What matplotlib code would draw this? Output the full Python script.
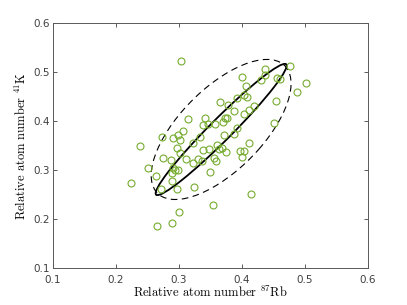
import numpy as np
import matplotlib
matplotlib.use('Agg')
import matplotlib.pyplot as plt
from matplotlib.patches import Ellipse

plt.rcParams['mathtext.fontset'] = 'cm'

# relative atom numbers
rb87 = [0.303, 0.476, 0.436, 0.437, 0.400, 0.431, 0.456, 0.460, 0.501, 0.406,
        0.488, 0.404, 0.408, 0.392, 0.454, 0.366, 0.378, 0.419, 0.411, 0.388,
        0.404, 0.342, 0.314, 0.373, 0.377, 0.370, 0.339, 0.346, 0.358, 0.451,
        0.392, 0.306, 0.273, 0.290, 0.299, 0.302, 0.322, 0.334, 0.372, 0.388,
        0.412, 0.238, 0.297, 0.339, 0.347, 0.360, 0.364, 0.369, 0.374, 0.397,
        0.403, 0.400, 0.275, 0.288, 0.302, 0.312, 0.322, 0.331, 0.337, 0.356,
        0.359, 0.251, 0.290, 0.294, 0.298, 0.289, 0.350, 0.263, 0.289, 0.224,
        0.271, 0.297, 0.324, 0.415, 0.354, 0.300, 0.289, 0.265]
k41 = [0.523, 0.513, 0.506, 0.494, 0.490, 0.485, 0.489, 0.486, 0.478, 0.471,
       0.459, 0.453, 0.450, 0.447, 0.441, 0.439, 0.432, 0.431, 0.423, 0.421,
       0.415, 0.406, 0.405, 0.406, 0.407, 0.399, 0.392, 0.395, 0.395, 0.397,
       0.385, 0.379, 0.368, 0.365, 0.371, 0.361, 0.356, 0.368, 0.371, 0.373,
       0.356, 0.350, 0.346, 0.342, 0.343, 0.351, 0.344, 0.346, 0.338, 0.339,
       0.339, 0.327, 0.324, 0.321, 0.334, 0.322, 0.314, 0.322, 0.319, 0.324,
       0.319, 0.305, 0.305, 0.300, 0.301, 0.294, 0.297, 0.287, 0.278, 0.274,
       0.261, 0.261, 0.266, 0.252, 0.229, 0.214, 0.193, 0.186]

# ellipses: centre, std devs, correlation
centre = (0.367, 0.383)
solid_sx, solid_sy, solid_rho = 0.104, 0.134, 0.972
dash_sx, dash_sy, dash_rho = 0.111, 0.143, 0.656

ticks = [0.1, 0.2, 0.3, 0.4, 0.5, 0.6]


def cov_ellipse(sx, sy, rho, **kw):
    cov = np.array([[sx * sx, rho * sx * sy], [rho * sx * sy, sy * sy]])
    vals, vecs = np.linalg.eigh(cov)
    ang = np.degrees(np.arctan2(vecs[1, 1], vecs[0, 1]))
    return Ellipse(centre, 2 * np.sqrt(vals[1]), 2 * np.sqrt(vals[0]),
                   angle=ang, fill=False, **kw)


fig = plt.figure(figsize=(4.07, 3.05), dpi=100)
ax = fig.add_axes([0.130, 0.121, 0.774, 0.803])

ax.plot(rb87, k41, 'o', mfc='none', mec='#77ac30', ms=5, mew=0.8)
ax.add_patch(cov_ellipse(solid_sx, solid_sy, solid_rho, ec='black', lw=1.3))
ax.add_patch(cov_ellipse(dash_sx, dash_sy, dash_rho, ec='black', lw=0.8,
                         ls=(0, (6, 4))))

ax.set_xlim(0.1, 0.6)
ax.set_ylim(0.1, 0.6)
ax.set_xticks(ticks)
ax.set_yticks(ticks)
ax.set_xticklabels([f'{t:.1f}' for t in ticks])
ax.set_yticklabels([f'{t:.1f}' for t in ticks])
ax.tick_params(direction='in', top=True, right=True, length=3, width=0.6,
               labelsize=7.5, colors='0.25', pad=2)
ax.tick_params(axis='x', pad=5)
for s in ax.spines.values():
    s.set_color('0.35')
    s.set_linewidth(0.7)

ax.set_xlabel(r'Relative atom number $^{87}$Rb', family='cmr10', fontsize=9,
              labelpad=0)
ax.set_ylabel(r'Relative atom number $^{41}$K', family='cmr10', fontsize=9,
              labelpad=3)

fig.savefig('out.png', dpi=100)
